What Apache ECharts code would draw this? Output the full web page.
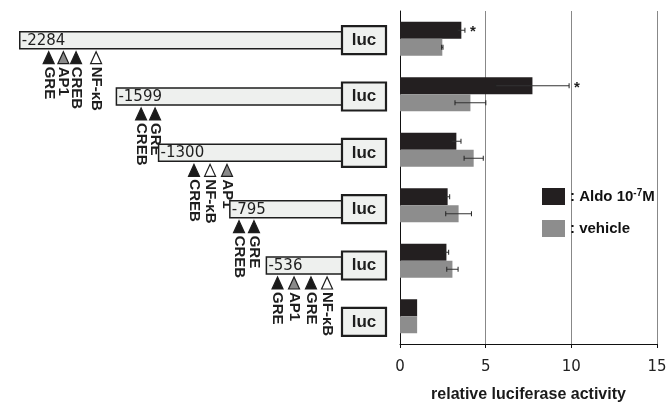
<!DOCTYPE html>
<html><head><meta charset="utf-8">
<script src="https://cdn.jsdelivr.net/npm/echarts@6/dist/echarts.min.js"></script>
<style>html,body{margin:0;padding:0;background:#fff}#c{width:671px;height:408px}</style>
</head><body><div id="c"></div>
<script>
// ---- data ----
const constructs = ['-2284', '-1599', '-1300', '-795', '-536', 'luc'];
const constructStart = [-2284, -1599, -1300, -795, -536, null];
const siteNames = [
  ['GRE', 'AP1', 'CREB', 'NF-κB'],
  ['CREB', 'GRE'],
  ['CREB', 'NF-κB', 'AP1'],
  ['CREB', 'GRE'],
  ['GRE', 'AP1', 'GRE', 'NF-κB'],
  []
];
const sitePos = [
  [-2079, -1975, -1885, -1743],
  [-1424, -1325],
  [-1049, -935, -815],
  [-730, -624],
  [-457, -340, -220, -106],
  []
];
const aldoMean = [3.58, 7.73, 3.29, 2.78, 2.71, 1.0];
const aldoErr  = [0.21, 2.14, 0.27, 0.12, 0.13, 0];
const vehMean  = [2.47, 4.11, 4.30, 3.42, 3.06, 1.0];
const vehErr   = [0.04, 0.90, 0.56, 0.75, 0.33, 0];
const signif   = ['*', '*', '', '', '', ''];

// ---- styles ----
const siteFill = { 'GRE': '#1a1a1a', 'CREB': '#1a1a1a', 'AP1': '#8a8a8a', 'NF-κB': '#ffffff' };
const INK = '#1e1e1e';

function renderConstruct(params, api) {
  const i = api.value(1);
  const p0 = api.coord([0, i]);
  const x0 = p0[0], yc = p0[1];
  const lucW = 44, lucH = 28, boxH = 17;
  const children = [];
  if (constructStart[i] != null) {
    const xs = api.coord([constructStart[i], i])[0];
    children.push({ type: 'rect', shape: { x: xs, y: yc - boxH / 2, width: x0 - xs, height: boxH },
      style: { fill: '#eef0ee', stroke: INK, lineWidth: 1.5 } });
    children.push({ type: 'text', x: xs + 2, y: yc + 0.5,
      style: { text: constructs[i], font: '15px "DejaVu Sans"', fill: INK, align: 'left', verticalAlign: 'middle' } });
    sitePos[i].forEach(function (p, k) {
      const xp = api.coord([p, i])[0];
      const t0 = yc + boxH / 2 + 3;
      children.push({ type: 'polygon', shape: { points: [[xp, t0], [xp - 5.5, t0 + 12], [xp + 5.5, t0 + 12]] },
        style: { fill: siteFill[siteNames[i][k]], stroke: INK, lineWidth: 1.2 } });
      children.push({ type: 'text', x: xp, y: t0 + 15, rotation: -Math.PI / 2,
        style: { text: siteNames[i][k], font: 'bold 15px "Liberation Sans"', fill: INK, align: 'left', verticalAlign: 'middle' } });
    });
  }
  children.push({ type: 'rect', shape: { x: x0, y: yc - lucH / 2, width: lucW, height: lucH },
    style: { fill: '#eff1ef', stroke: INK, lineWidth: 2.2 } });
  children.push({ type: 'text', x: x0 + lucW / 2, y: yc,
    style: { text: 'luc', font: 'bold 17px "Liberation Sans"', fill: INK, align: 'center', verticalAlign: 'middle' } });
  return { type: 'group', children: children };
}

function makeErrRender(sign, marks) {
  return function (params, api) {
    const i = api.value(0), m = api.value(1), e = api.value(2);
    if (!(e > 0) && !marks[i]) return null;
    const yc = api.coord([0, i])[1] + sign * 8.5;
    const xl = api.coord([m - e, i])[0], xr = api.coord([m + e, i])[0];
    const ch = [];
    if (e > 0) {
      ch.push({ type: 'line', shape: { x1: xl, y1: yc, x2: xr, y2: yc }, style: { stroke: '#333', lineWidth: 1 } });
      ch.push({ type: 'line', shape: { x1: xl, y1: yc - 2.5, x2: xl, y2: yc + 2.5 }, style: { stroke: '#222', lineWidth: 1 } });
      ch.push({ type: 'line', shape: { x1: xr, y1: yc - 2.5, x2: xr, y2: yc + 2.5 }, style: { stroke: '#222', lineWidth: 1 } });
    }
    if (marks[i]) {
      ch.push({ type: 'text', x: xr + 5, y: yc + 2,
        style: { text: marks[i], font: 'bold 15px "Liberation Sans"', fill: INK, align: 'left', verticalAlign: 'middle' } });
    }
    return { type: 'group', children: ch };
  };
}

const chart = echarts.init(document.getElementById('c'), null, { renderer: 'canvas' });
chart.setOption({
  animation: false,
  backgroundColor: '#fff',
  grid: [
    { left: 400, right: 14, top: 11, bottom: 56 },
    { left: 0, right: 329, top: 12, bottom: 58 }
  ],
  legend: {
    data: ['Aldo', 'vehicle'],
    orient: 'vertical', left: 537, top: 183,
    itemWidth: 23, itemHeight: 17, itemGap: 15, icon: 'rect',
    formatter: function (n) { return n === 'Aldo' ? '{t|: Aldo 10}{s|-7}{t|M}' : '{t|: vehicle}'; },
    textStyle: {
      rich: {
        t: { fontSize: 15, fontWeight: 'bold', fontFamily: 'Liberation Sans', color: '#111', lineHeight: 17 },
        s: { fontSize: 10, fontWeight: 'bold', fontFamily: 'Liberation Sans', color: '#111', verticalAlign: 'top', lineHeight: 17 }
      }
    }
  },
  xAxis: [
    { type: 'value', gridIndex: 0, min: 0, max: 15, interval: 5,
      axisLine: { show: true, lineStyle: { color: '#111', width: 1 } },
      axisTick: { show: true, length: 4, lineStyle: { color: '#111' } },
      axisLabel: { fontSize: 15, fontFamily: 'DejaVu Sans', color: '#222', margin: 16 },
      splitLine: { show: true, lineStyle: { color: '#888', width: 1 } },
      name: 'relative luciferase activity', nameLocation: 'middle', nameGap: 43,
      nameTextStyle: { fontSize: 16, fontWeight: 'bold', fontFamily: 'Liberation Sans', color: '#1a1a1a' } },
    { type: 'value', gridIndex: 1, min: -2424, max: 0, show: false }
  ],
  yAxis: [
    { type: 'category', gridIndex: 0, data: constructs, inverse: true,
      axisLine: { show: true, lineStyle: { color: '#111', width: 1 } },
      axisTick: { show: false }, axisLabel: { show: false }, splitLine: { show: false } },
    { type: 'category', gridIndex: 1, data: constructs, inverse: true, show: false }
  ],
  series: [
    { name: 'Aldo', type: 'bar', xAxisIndex: 0, yAxisIndex: 0, data: aldoMean,
      barWidth: 17, barGap: '0%', itemStyle: { color: '#231f20' } },
    { name: 'vehicle', type: 'bar', xAxisIndex: 0, yAxisIndex: 0, data: vehMean,
      barWidth: 17, barGap: '0%', itemStyle: { color: '#8d8d8d' } },
    { type: 'custom', xAxisIndex: 0, yAxisIndex: 0, z: 5,
      data: aldoMean.map(function (m, i) { return [i, m, aldoErr[i]]; }),
      encode: { x: 1, y: 0 }, renderItem: makeErrRender(-1, signif) },
    { type: 'custom', xAxisIndex: 0, yAxisIndex: 0, z: 5,
      data: vehMean.map(function (m, i) { return [i, m, vehErr[i]]; }),
      encode: { x: 1, y: 0 }, renderItem: makeErrRender(1, ['', '', '', '', '', '']) },
    { type: 'custom', xAxisIndex: 1, yAxisIndex: 1, clip: false,
      data: constructs.map(function (c, i) { return [constructStart[i] == null ? 0 : constructStart[i], i]; }),
      encode: { x: 0, y: 1 }, renderItem: renderConstruct }
  ]
});
</script></body></html>
